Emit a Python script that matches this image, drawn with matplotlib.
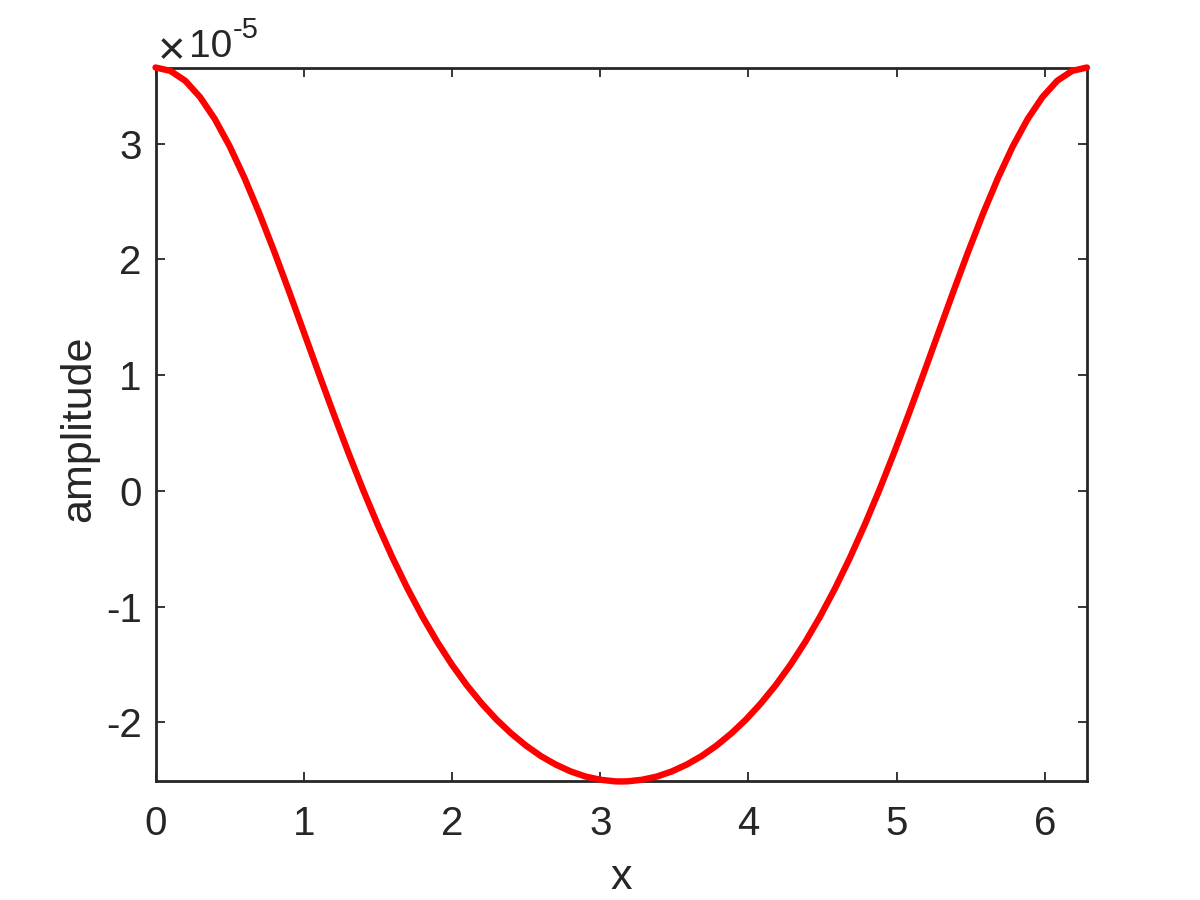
import matplotlib
matplotlib.use("Agg")
import matplotlib.pyplot as plt
from matplotlib.ticker import FixedLocator, FuncFormatter

# amplitude is given in units of 1e-5 (shown as the "x10^-5" factor)
x = [0.0, 0.1, 0.2, 0.3, 0.4, 0.5, 0.6, 0.7, 0.8, 0.9,
     1.0, 1.1, 1.2, 1.3, 1.4, 1.5, 1.6, 1.7, 1.8, 1.9,
     2.0, 2.1, 2.2, 2.3, 2.4, 2.5, 2.6, 2.7, 2.8, 2.9,
     3.0, 3.1, 3.1416,
     3.1832, 3.2832, 3.3832, 3.4832, 3.5832, 3.6832, 3.7832, 3.8832,
     3.9832, 4.0832, 4.1832, 4.2832, 4.3832, 4.4832, 4.5832, 4.6832,
     4.7832, 4.8832, 4.9832, 5.0832, 5.1832, 5.2832, 5.3832, 5.4832,
     5.5832, 5.6832, 5.7832, 5.8832, 5.9832, 6.0832, 6.1832, 6.2832]
amplitude = [3.657, 3.628, 3.543, 3.402, 3.212, 2.977, 2.703, 2.398, 2.070, 1.726,
             1.373, 1.019, 0.671, 0.333, 0.009, -0.296, -0.581, -0.844, -1.085, -1.304,
             -1.502, -1.679, -1.836, -1.975, -2.096, -2.201, -2.291, -2.364, -2.423, -2.467,
             -2.495, -2.509, -2.510,
             -2.509, -2.495, -2.467, -2.423, -2.364, -2.291, -2.201, -2.096,
             -1.975, -1.836, -1.679, -1.502, -1.304, -1.085, -0.844, -0.581,
             -0.296, 0.009, 0.333, 0.671, 1.019, 1.373, 1.726, 2.070,
             2.398, 2.703, 2.977, 3.212, 3.402, 3.543, 3.628, 3.657]
x_ticks = [0, 1, 2, 3, 4, 5, 6]
y_ticks = [-2, -1, 0, 1, 2, 3]

AX_COLOR = "#262626"
plt.rcParams["font.family"] = ["Liberation Sans", "DejaVu Sans"]
plt.rcParams["axes.unicode_minus"] = False

fig = plt.figure(figsize=(12, 9), dpi=100)
ax = fig.add_axes([0.1296, 0.1317, 0.7762, 0.7933])

ax.plot(x, amplitude, color="red", lw=4.6, solid_capstyle="round",
        solid_joinstyle="round", clip_on=False, zorder=3)

ax.set_xlim(0, 6.2832)
ax.set_ylim(-2.51, 3.657)
ax.xaxis.set_major_locator(FixedLocator(x_ticks))
ax.yaxis.set_major_locator(FixedLocator(y_ticks))
ax.yaxis.set_major_formatter(FuncFormatter(lambda v, p: f"{v:.0f}"))

for s in ax.spines.values():
    s.set_color(AX_COLOR)
    s.set_linewidth(2.0)
ax.tick_params(which="both", direction="in", top=True, right=True,
               length=6.5, width=1.3, color=AX_COLOR, labelcolor=AX_COLOR,
               labelsize=29)
ax.tick_params(axis="x", pad=17)
ax.tick_params(axis="y", pad=10)

ax.set_xlabel("x", fontsize=31, color=AX_COLOR, va="baseline")
ax.xaxis.set_label_coords(0.5, -0.1506)
ax.set_ylabel("amplitude", fontsize=31, color=AX_COLOR, va="baseline")
ax.yaxis.set_label_coords(-0.0703, 0.4944)

# exponent factor drawn like MATLAB's axis multiplier
fig.text(158 / 1200, 1 - 47 / 900, "×", fontsize=34, color=AX_COLOR,
         ha="left", va="center_baseline", fontweight="light")
fig.text(189 / 1200, 1 - 56.7 / 900, "10", fontsize=28, color=AX_COLOR,
         ha="left", va="baseline")
fig.text(233 / 1200, 1 - 38 / 900, "-5", fontsize=21, color=AX_COLOR,
         ha="left", va="baseline")

fig.savefig("out.png", dpi=100, facecolor="white")
